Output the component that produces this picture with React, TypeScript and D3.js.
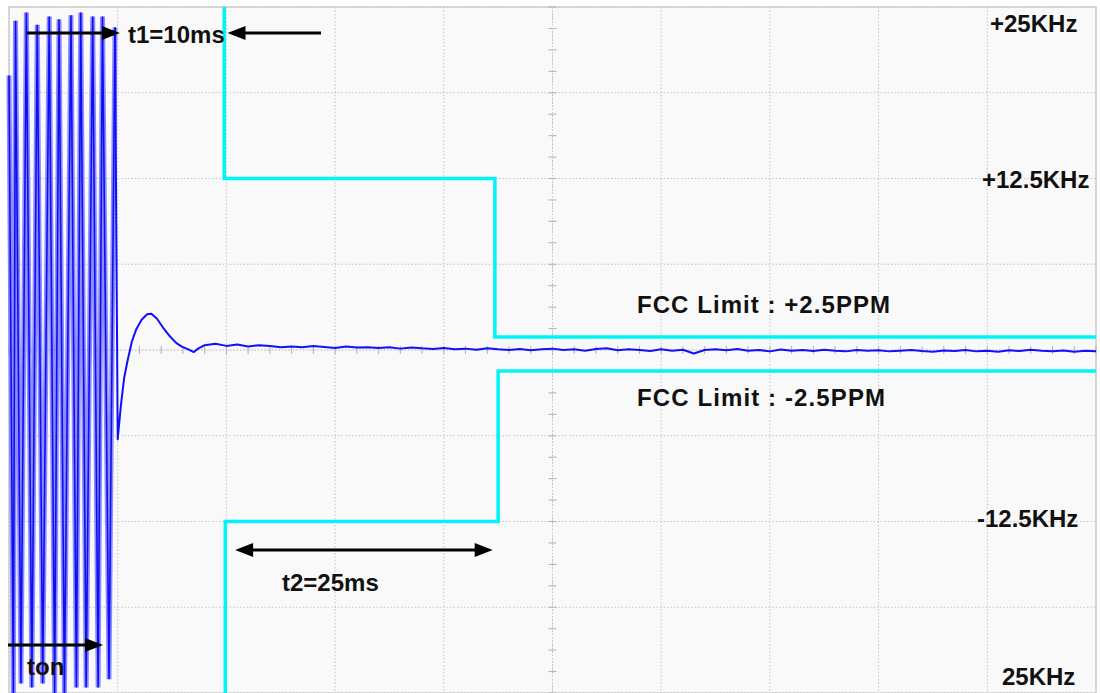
import React from "react";
import * as d3 from "d3";

// ---- data (time in ms, frequency deviation in kHz) ----
const burstT = [0.0, 0.4, 0.6, 1.1, 1.6, 2.1, 2.6, 3.1, 3.7, 4.2, 4.6, 5.1, 5.7, 6.2, 6.6, 7.1, 7.7, 8.2, 8.6, 9.2, 9.75];
const burstV = [20, -25, 24, -24.3, 24.6, -24.6, 23.7, -24.3, 24.3, -25, 24.1, -25, 24.4, -24.6, 24.6, -24.6, 24.3, -24.6, 24.3, -24, 23.5];

const settleT = [10.0, 10.3, 10.6, 10.9, 11.3, 11.7, 12.2, 12.7, 13.1, 13.6, 14.2, 14.8, 15.4, 15.9, 16.5, 17.0, 17.4];
const settleV = [-6.5, -4.0, -2.0, -0.8, 0.6, 1.5, 2.2, 2.6, 2.65, 2.3, 1.6, 1.0, 0.5, 0.25, 0.05, -0.15, 0.1];

const tailStart = 18; // ms, one sample per ms
const tailV = [
  0.35, 0.45, 0.3, 0.4, 0.25, 0.35, 0.3, 0.2,
  0.25, 0.2, 0.3, 0.22, 0.15, 0.25, 0.18, 0.2,
  0.15, 0.2, 0.1, 0.18, 0.12, 0.08, 0.15, 0.05,
  0.1, 0.02, 0.12, 0.05, 0.0, 0.08, -0.02, 0.05,
  0.1, 0.0, 0.05, -0.05, 0.08, 0.12, -0.02, 0.05,
  0.0, -0.08, 0.05, -0.05, 0.02, -0.25, 0.0, 0.05,
  -0.02, 0.08, -0.05, 0.0, -0.1, 0.03, -0.06, 0.0,
  -0.08, 0.02, -0.05, -0.1, 0.0, -0.06, -0.02, -0.1,
  -0.05, 0.0, -0.08, -0.12, -0.03, -0.07, 0.0, -0.1,
  -0.05, -0.12, -0.02, -0.08, 0.02, -0.06, -0.1, -0.04, -0.12, -0.06, -0.1,
];

const upperLimitT = [19.8, 19.8, 44.7, 44.7, 100];
const upperLimitV = [25, 12.5, 12.5, 0.95, 0.95];
const lowerLimitT = [19.9, 19.9, 45.0, 45.0, 100];
const lowerLimitV = [-25, -12.5, -12.5, -1.53, -1.53];

const yTickLabels = [
  { v: 25, text: "+25KHz" },
  { v: 12.5, text: "+12.5KHz" },
  { v: -12.5, text: "-12.5KHz" },
  { v: -25, text: "25KHz" },
];

const limitLabels = ["FCC Limit : +2.5PPM", "FCC Limit : -2.5PPM"];
const timeLabels = ["t1=10ms", "t2=25ms", "ton"];

export default function App() {
  const W = 1100, H = 693;
  const x = d3.scaleLinear().domain([0, 100]).range([9, 1096]);
  const y = d3.scaleLinear().domain([-25, 25]).range([693, 7]);

  const xDiv = d3.range(0, 101, 10);
  const yDiv = d3.range(-25, 25.01, 6.25);
  const xMinor = d3.range(0, 100.01, 2);
  const yMinor = d3.range(-25, 25.01, 6.25 / 4);

  const line = d3.line<[number, number]>().x((d) => x(d[0])).y((d) => y(d[1]));

  const burst: [number, number][] = burstT.map((t, i) => [t, burstV[i]]);
  const signal: [number, number][] = [
    [burstT[burstT.length - 1], burstV[burstV.length - 1]],
    ...settleT.map((t, i) => [t, settleV[i]] as [number, number]),
    ...tailV.map((v, i) => [tailStart + i, v] as [number, number]),
  ];
  const upper: [number, number][] = upperLimitT.map((t, i) => [t, upperLimitV[i]]);
  const lower: [number, number][] = lowerLimitT.map((t, i) => [t, lowerLimitV[i]]);

  const font = "'Liberation Sans', Arial, sans-serif";

  const arrow = (x1: number, x2: number, yy: number, key: string, both = false) => {
    const dir = x2 > x1 ? 1 : -1;
    const hl = 18, hw = 7;
    return (
      <g key={key}>
        <line x1={both ? x1 + dir * hl * 0.8 : x1} y1={yy} x2={x2 - dir * hl * 0.8} y2={yy} stroke="#000" strokeWidth={3} />
        <polygon points={`${x2},${yy} ${x2 - dir * hl},${yy - hw} ${x2 - dir * hl},${yy + hw}`} fill="#000" />
        {both && (
          <polygon points={`${x1},${yy} ${x1 + dir * hl},${yy - hw} ${x1 + dir * hl},${yy + hw}`} fill="#000" />
        )}
      </g>
    );
  };

  return (
    <svg width={W} height={H} style={{ position: "absolute", left: 0, top: 0, background: "#fff" }}>
      <rect x={x(0)} y={y(25)} width={x(100) - x(0)} height={y(-25) - y(25)} fill="#f9f9f9" stroke="#cfcfcf" strokeWidth={1.5} />
      {/* grid */}
      {xDiv.map((t) => (
        <line key={"gx" + t} x1={x(t)} x2={x(t)} y1={y(25)} y2={y(-25)} stroke="#c4c4c4" strokeWidth={1} strokeDasharray="1.5,2" />
      ))}
      {yDiv.map((v) => (
        <line key={"gy" + v} x1={x(0)} x2={x(100)} y1={y(v)} y2={y(v)} stroke="#c4c4c4" strokeWidth={1} strokeDasharray="1.5,2" />
      ))}
      {/* center axes minor ticks */}
      {xMinor.map((t) => (
        <line key={"mx" + t} x1={x(t)} x2={x(t)} y1={y(0) - 4} y2={y(0) + 4} stroke="#b0b0b0" strokeWidth={1} />
      ))}
      {yMinor.map((v) => (
        <line key={"my" + v} x1={x(50) - 4} x2={x(50) + 4} y1={y(v)} y2={y(v)} stroke="#b0b0b0" strokeWidth={1} />
      ))}
      <line x1={x(0)} x2={x(100)} y1={y(0)} y2={y(0)} stroke="#c8c8c8" strokeWidth={1} strokeDasharray="1,2" />
      <line x1={x(50)} x2={x(50)} y1={y(25)} y2={y(-25)} stroke="#c8c8c8" strokeWidth={1} strokeDasharray="1,2" />

      {/* limit mask */}
      <path d={line(upper) || ""} fill="none" stroke="#00f4f8" strokeWidth={3.5} />
      <path d={line(lower) || ""} fill="none" stroke="#00f4f8" strokeWidth={3.5} />

      {/* signal */}
      <path d={line(burst) || ""} fill="none" stroke="#7070ff" strokeWidth={5} strokeOpacity={0.8} />
      <path d={line(burst) || ""} fill="none" stroke="#0000f0" strokeWidth={1.6} strokeOpacity={0.9} />
      <path d={line(signal) || ""} fill="none" stroke="#1010ff" strokeWidth={2} strokeLinejoin="round" />

      {/* y labels */}
      <g fontFamily={font} fontWeight="bold" fontSize={24} fill="#111">
        {yTickLabels.map((d, i) => {
          const pos = [
            { xx: 990, yy: 32 },
            { xx: 982, yy: 188 },
            { xx: 977, yy: 527 },
            { xx: 1002, yy: 685 },
          ][i];
          return (
            <text key={d.text} x={pos.xx} y={pos.yy}>
              {d.text}
            </text>
          );
        })}
        <text x={637} y={313} textLength={253}>{limitLabels[0]}</text>
        <text x={637} y={406} textLength={248}>{limitLabels[1]}</text>
        <text x={128} y={43}>{timeLabels[0]}</text>
        <text x={282} y={591}>{timeLabels[1]}</text>
        <text x={27} y={675}>{timeLabels[2]}</text>
      </g>

      {/* arrows */}
      {arrow(27, x(10.2), 33, "a1")}
      {arrow(321, x(20.1), 33, "a2")}
      {arrow(x(20.8), x(44.5), 550, "a3", true)}
      {arrow(8, 103, 645, "a4")}
    </svg>
  );
}
